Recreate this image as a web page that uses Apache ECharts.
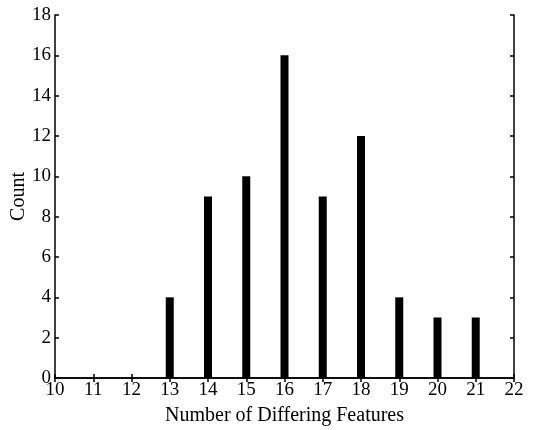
<!DOCTYPE html>
<html><head><meta charset="utf-8">
<script src="https://cdn.jsdelivr.net/npm/echarts@6/dist/echarts.min.js"></script>
<style>html,body{margin:0;padding:0;background:#fff}#c{width:533px;height:430px}</style>
</head><body><div id="c"></div>
<script>
const features = [13, 14, 15, 16, 17, 18, 19, 20, 21];
const counts = [4, 9, 10, 16, 9, 12, 4, 3, 3];
const xTicks = [10, 11, 12, 13, 14, 15, 16, 17, 18, 19, 20, 21, 22];
const yTicks = [0, 2, 4, 6, 8, 10, 12, 14, 16, 18];

const font = 'Liberation Serif';
const chart = echarts.init(document.getElementById('c'));
const axisLine = {show: true, lineStyle: {color: '#000', width: 1.5}};
const tick = {show: true, inside: true, length: 4, lineStyle: {color: '#000', width: 1.5}};
chart.setOption({
  animation: false,
  grid: {left: 55, top: 15, right: 19, bottom: 52, containLabel: false, outerBoundsMode: 'none'},
  xAxis: [{
    type: 'value', min: xTicks[0], max: xTicks[xTicks.length - 1], interval: 1,
    name: 'Number of Differing Features', nameLocation: 'middle', nameGap: 28,
    nameMoveOverlap: false,
    nameTextStyle: {fontFamily: font, fontSize: 20, color: '#000'},
    axisLine, axisTick: tick, splitLine: {show: false},
    axisLabel: {fontFamily: font, fontSize: 19, color: '#000', margin: 3}
  }, {
    type: 'value', position: 'top', min: xTicks[0], max: xTicks[xTicks.length - 1], interval: 1,
    axisLine, axisTick: tick, splitLine: {show: false}, axisLabel: {show: false}
  }],
  yAxis: [{
    type: 'value', min: yTicks[0], max: yTicks[yTicks.length - 1], interval: 2,
    name: 'Count', nameLocation: 'middle', nameGap: 26,
    nameMoveOverlap: false,
    nameTextStyle: {fontFamily: font, fontSize: 20, color: '#000'},
    axisLine, axisTick: tick, splitLine: {show: false},
    axisLabel: {fontFamily: font, fontSize: 19, color: '#000', margin: 4}
  }, {
    type: 'value', position: 'right', min: yTicks[0], max: yTicks[yTicks.length - 1], interval: 2,
    axisLine, axisTick: tick, splitLine: {show: false}, axisLabel: {show: false}
  }],
  series: [{
    type: 'bar', barWidth: 8,
    itemStyle: {color: '#000'},
    data: features.map((f, i) => [f, counts[i]])
  }]
});
</script></body></html>
